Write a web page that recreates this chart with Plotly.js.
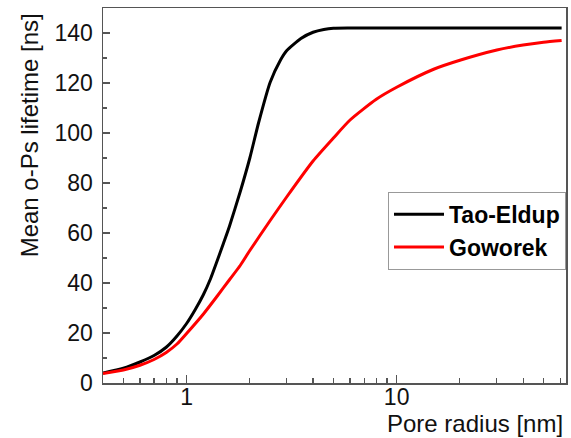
<!DOCTYPE html>
<html>
<head>
<meta charset="utf-8">
<script src="https://cdn.plot.ly/plotly-3.0.1.min.js"></script>
<style>html,body{margin:0;padding:0;background:#fff;}#chart{width:571px;height:438px;}</style>
</head>
<body>
<div id="chart"></div>
<script>
// Pore radius [nm] and mean o-Ps lifetime [ns]
const taoRadius = [0.4, 0.5, 0.6, 0.7, 0.8, 0.9, 1.0, 1.1, 1.2, 1.3, 1.4, 1.5, 1.6, 1.8, 2.0, 2.2, 2.5, 2.8, 3.0, 3.5, 4.0, 4.5, 5.0, 6.0, 8.0, 10, 20, 40, 61];
const taoLifetime = [4.0, 5.9, 8.4, 11.0, 14.3, 18.8, 23.8, 29.4, 35.2, 41.7, 49.0, 56.0, 62.7, 76.5, 90.0, 104.0, 120.3, 129.2, 133.0, 137.8, 140.3, 141.4, 141.9, 142.0, 142.0, 142.0, 142.0, 142.0, 142.0];
const gowRadius = [0.4, 0.5, 0.6, 0.7, 0.8, 0.9, 1.0, 1.2, 1.4, 1.6, 1.8, 2.0, 2.5, 3.0, 4.0, 5.0, 6.0, 8.0, 10, 15, 20, 30, 40, 50, 61];
const gowLifetime = [3.8, 5.2, 7.1, 9.4, 12.2, 15.6, 19.8, 27.5, 34.8, 41.3, 47.0, 53.0, 65.0, 74.5, 88.8, 98.0, 105.2, 113.5, 118.3, 125.5, 129.1, 133.2, 135.2, 136.3, 137.0];
const seriesNames = ["Tao-Eldup", "Goworek"];
const xTickVals = [1, 10];
const xMinorVals = [0.5, 0.6, 0.7, 0.8, 0.9, 2, 3, 4, 5, 6, 7, 8, 9, 20, 30, 40, 50, 60];

const FONT = "Liberation Sans, Arial, sans-serif";
const AX = "#555";

const traces = [
  {x: taoRadius, y: taoLifetime, name: seriesNames[0], type: "scatter", mode: "lines",
   line: {color: "#000000", width: 3, shape: "spline", smoothing: 0.6}},
  {x: gowRadius, y: gowLifetime, name: seriesNames[1], type: "scatter", mode: "lines",
   line: {color: "#ff0000", width: 3, shape: "spline", smoothing: 0.6}}
];

const layout = {
  width: 571, height: 438,
  margin: {l: 103, r: 5, t: 8, b: 55},
  paper_bgcolor: "#fff", plot_bgcolor: "#fff",
  font: {family: FONT, size: 23, color: "#111"},
  showlegend: true,
  legend: {
    x: 1, xanchor: "right", y: 0.51, yanchor: "top",
    bgcolor: "#fff", bordercolor: "#999", borderwidth: 1,
    font: {family: FONT, size: 23, color: "#000", weight: "bold"},
    itemwidth: 50, tracegroupgap: 0
  },
  xaxis: {
    type: "log",
    range: [Math.log10(0.4), Math.log10(64)],
    showgrid: false, zeroline: false,
    showline: true, mirror: true, linecolor: AX, linewidth: 1.5,
    ticks: "inside", ticklen: 8, tickwidth: 1.2, tickcolor: AX,
    tickmode: "array", tickvals: xTickVals,
    ticklabelstandoff: -7,
    tickfont: {family: FONT, size: 23, color: "#111"},
    minor: {tickmode: "array", tickvals: xMinorVals, ticks: "inside", ticklen: 5, tickwidth: 1.2, tickcolor: AX, showgrid: false}
  },
  yaxis: {
    range: [0, 150],
    showgrid: false, zeroline: false,
    showline: true, mirror: true, linecolor: AX, linewidth: 1.5,
    ticks: "inside", ticklen: 7, tickwidth: 1.2, tickcolor: AX,
    dtick: 20, tick0: 0,
    ticklabelstandoff: 4,
    tickfont: {family: FONT, size: 23, color: "#111"},
    minor: {dtick: 10, ticks: "inside", ticklen: 4, tickwidth: 1.2, tickcolor: AX, showgrid: false}
  },
  annotations: [
    {text: "Pore radius [nm]", xref: "paper", yref: "paper", x: 0.998, y: -0.108,
     xanchor: "right", yanchor: "middle", showarrow: false,
     font: {family: FONT, size: 24, color: "#111"}},
    {text: "Mean o-Ps lifetime [ns]", xref: "paper", yref: "paper", x: -0.158, y: 0.66,
     xanchor: "center", yanchor: "middle", textangle: -90, showarrow: false,
     font: {family: FONT, size: 24, color: "#111"}}
  ]
};

Plotly.newPlot("chart", traces, layout, {displayModeBar: false, staticPlot: true});
</script>
</body>
</html>
